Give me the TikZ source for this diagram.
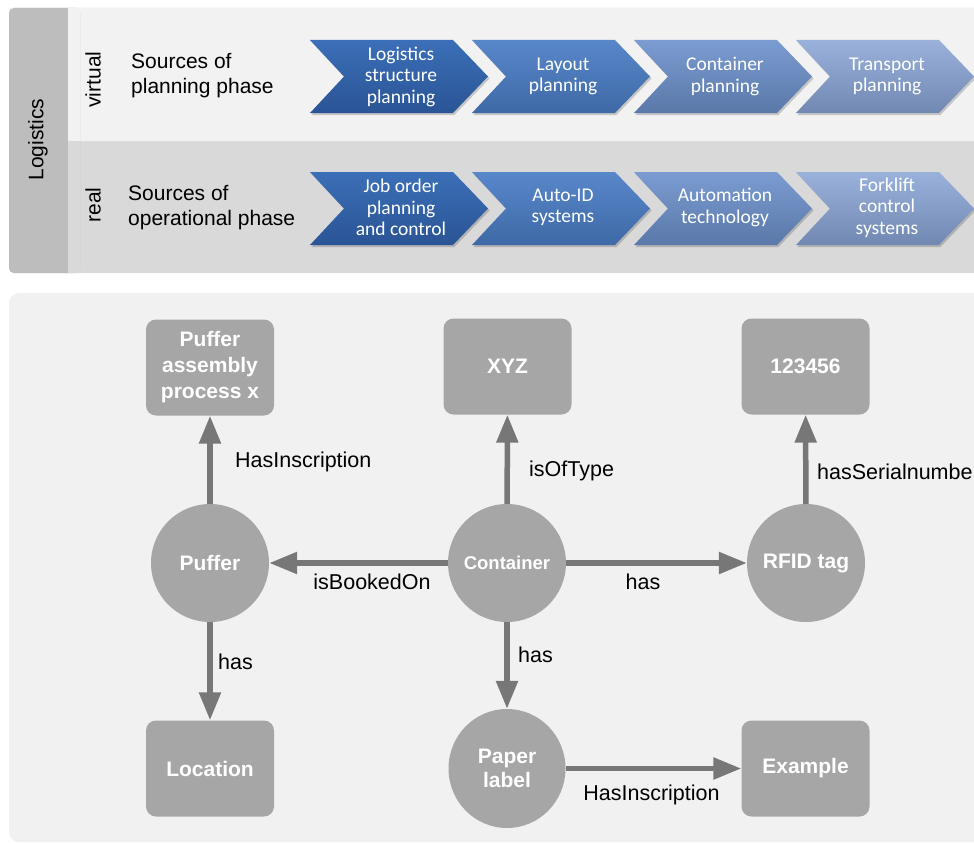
\documentclass[tikz,border=0pt]{standalone}
\usepackage{fontspec}
\setmainfont{Liberation Sans}
\newfontfamily\chevfont{Carlito}
\usetikzlibrary{arrows.meta,shapes.geometric}

\definecolor{stripgray}{HTML}{BDBDBD}
\definecolor{bandlight}{HTML}{F2F2F2}
\definecolor{banddark}{HTML}{D9D9D9}
\definecolor{panelbg}{HTML}{F1F1F1}
\definecolor{nodegray}{HTML}{A6A6A6}
\definecolor{arrowgray}{HTML}{777777}
\definecolor{cAt}{HTML}{3B6FB7}
\definecolor{cAb}{HTML}{2A5495}
\definecolor{cBt}{HTML}{5887CA}
\definecolor{cBb}{HTML}{3E69A6}
\definecolor{cCt}{HTML}{7B9CD2}
\definecolor{cCb}{HTML}{5A78A8}
\definecolor{cDt}{HTML}{9AB2DB}
\definecolor{cDb}{HTML}{7189B2}

\tikzset{
  chevtext/.style={text=white, font=\chevfont\fontsize{19.5}{21.5}\selectfont,
    align=center, inner sep=0pt},
  sidetext/.style={text=black, font=\fontsize{21}{25}\selectfont,
    align=left, inner sep=0pt},
  rottext/.style={text=black, font=\fontsize{21}{25}\selectfont,
    rotate=90, inner sep=0pt},
  rbox/.style={rectangle, rounded corners=10pt, fill=nodegray, text=white,
    font=\bfseries\fontsize{21}{26}\selectfont, align=center,
    minimum width=128pt, minimum height=96pt, inner sep=0pt},
  cnode/.style={circle, fill=nodegray, text=white,
    font=\bfseries\fontsize{21}{24}\selectfont, align=center,
    minimum size=118pt, inner sep=0pt},
  rel/.style={draw=arrowgray, line width=5.5pt,
    -{Triangle[length=28pt,width=21pt]}},
  rellabel/.style={text=black, font=\fontsize{21.5}{24}\selectfont, inner sep=0pt}
}

\begin{document}
\begin{tikzpicture}[x=1pt,y=-1pt]
\useasboundingbox (0,0) rectangle (974,843);
\fill[white] (0,0) rectangle (974,843);

% upper panel: two bands with a side strip
\fill[banddark, rounded corners=5pt] (9,8) rectangle (1000,273);
\fill[bandlight, rounded corners=5pt] (9,8) -- (1000,8) -- (1000,141) -- (9,141) [sharp corners] -- cycle;
\fill[bandlight] (9,100) rectangle (1000,141);
\fill[stripgray, rounded corners=5pt] (9,8) rectangle (80,273);
\fill[bandlight] (68,8) rectangle (80,141);
\fill[banddark] (68,141) rectangle (80,273);

\node[rottext] (logi) at (38,139.5) {Logistics};
\node[rottext] (virt) at (93,79.5) {virtual};
\node[rottext] (real) at (93,205) {real};
\node[sidetext, anchor=west] (srcplan) at (131,75.5) {Sources of\\planning phase};
\node[sidetext, anchor=west] (srcop) at (128,207.5) {Sources of\\operational phase};

% process chevrons
\foreach \i/\tc/\bc in {0/cAt/cAb,1/cBt/cBb,2/cCt/cCb,3/cDt/cDb} {
  \pgfmathsetmacro\L{310+162*\i}
  \foreach \yt in {40,172} {
    \fill[black, opacity=0.18] (\L+1.5,\yt+2) -- ++(143,0) -- ++(35,36.5) -- ++(-35,36.5)
      -- ++(-143,0) -- ++(34,-36.5) -- cycle;
    \shade[top color=\tc, bottom color=\bc] (\L,\yt) -- ++(143,0) -- ++(35,36.5)
      -- ++(-35,36.5) -- ++(-143,0) -- ++(34,-36.5) -- cycle;
  }
}
\node[chevtext] (c1) at (401,76.5) {Logistics\\structure\\planning};
\node[chevtext] (c2) at (563,76.5) {Layout\\planning};
\node[chevtext] (c3) at (725,76.5) {Container\\planning};
\node[chevtext] (c4) at (887,76.5) {Transport\\planning};
\node[chevtext] (d1) at (401,207.5) {Job order\\planning\\and control};
\node[chevtext] (d2) at (563,207.5) {Auto-ID\\systems};
\node[chevtext] (d3) at (725,207.5) {Automation\\technology};
\node[chevtext] (d4) at (887,207.5) {Forklift\\control\\systems};

% lower panel: ontology graph
\fill[panelbg, rounded corners=10pt] (9,293) rectangle (1000,842);

\node[rbox] (pbox) at (210,367.5) {Puffer\\assembly\\process x};
\node[rbox] (xyz) at (507.5,366.5) {XYZ};
\node[rbox] (sn) at (805.5,366.5) {123456};
\node[rbox] (loc) at (210,768.5) {Location};
\node[rbox] (ex) at (805.5,768.5) {Example};

\node[cnode] (puffer) at (210,563) {Puffer};
\node[cnode, font=\bfseries\fontsize{18.5}{22}\selectfont] (cont) at (507,563) {Container};
\node[cnode] (rfid) at (806,563) {RFID tag};
\node[ellipse, fill=nodegray, text=white, font=\bfseries\fontsize{21}{24}\selectfont,
  align=center, minimum width=117pt, minimum height=119pt, inner sep=0pt]
  (paper) at (507,768.5) {Paper\\label};

\draw[rel] (puffer) -- (pbox);
\draw[rel] (cont) -- (xyz);
\draw[rel] (rfid) -- (sn);
\draw[rel] (cont) -- (puffer);
\draw[rel] (cont) -- (rfid);
\draw[rel] (puffer) -- (loc);
\draw[rel] (cont) -- (paper);
\draw[rel] (paper) -- (ex);

\node[rellabel, anchor=west] (lhi1) at (235,462) {HasInscription};
\node[rellabel, anchor=west] (lot) at (529,471) {isOfType};
\node[rellabel, anchor=west] (lsn) at (817,472) {hasSerialnumber};
\node[rellabel] (lbo) at (372,582) {isBookedOn};
\node[rellabel] (lh1) at (643,582) {has};
\node[rellabel, anchor=west] (lh2) at (218,662) {has};
\node[rellabel, anchor=west] (lh3) at (518,655) {has};
\node[rellabel] (lhi2) at (651.5,795) {HasInscription};
\end{tikzpicture}
\end{document}
